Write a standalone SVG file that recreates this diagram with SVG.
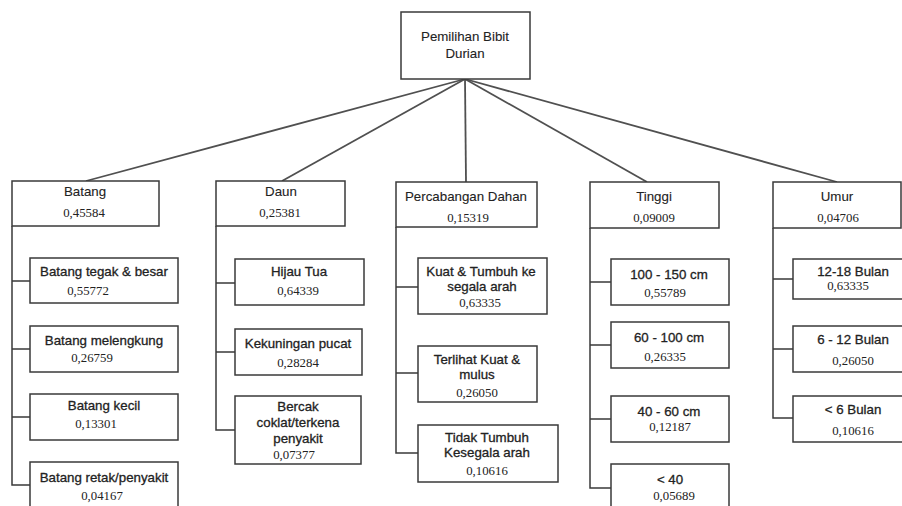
<svg xmlns="http://www.w3.org/2000/svg" width="902" height="506" viewBox="0 0 902 506">
<style>
.box{fill:#fff;stroke:#3a3a3a;stroke-width:1.5}
.lbl{font-family:"Liberation Sans",Arial,sans-serif;font-size:13.3px;fill:#222;stroke:#222;stroke-width:0.3;text-anchor:middle}
.hd{stroke-width:0.1}
.num{font-family:"Liberation Serif","Times New Roman",serif;font-size:12.8px;fill:#222;text-anchor:middle}
.ln{fill:none;stroke:#3a3a3a;stroke-width:1.5}
.rl{fill:none;stroke:#505050;stroke-width:1.8}
</style>
<rect width="902" height="506" fill="#fff"/>
<g id="connectors">
<line class="rl" x1="465" y1="79" x2="86" y2="181"/>
<line class="rl" x1="465" y1="79" x2="282" y2="181"/>
<line class="rl" x1="465" y1="79" x2="466" y2="182"/>
<line class="rl" x1="465" y1="79" x2="647" y2="182"/>
<line class="rl" x1="465" y1="79" x2="837" y2="182"/>
<path class="ln" d="M12 226 V485 H30 M12 281 H30 M12 349 H30 M12 417 H30"/>
<path class="ln" d="M216 226 V430 H235 M216 283 H235 M216 352 H235"/>
<path class="ln" d="M396 227 V453 H418 M396 287 H418 M396 373 H418"/>
<path class="ln" d="M590 228 V488 H611 M590 282 H611 M590 345 H611 M590 419 H611"/>
<path class="ln" d="M773 228 V418 H793 M773 279 H793 M773 349 H793"/>
</g>
<g id="root">
<rect class="box" x="401" y="12" width="129" height="67"/>
<text class="lbl hd" x="465" y="41">Pemilihan Bibit</text>
<text class="lbl hd" x="465" y="58">Durian</text>
</g>
<g id="batang">
<rect class="box" x="12" y="181" width="147" height="45"/>
<text class="lbl hd" x="85" y="196">Batang</text>
<text class="num" x="84" y="217">0,45584</text>
</g>
<g id="batang-tegak">
<rect class="box" x="30" y="258" width="148" height="45"/>
<text class="lbl" x="104" y="276">Batang tegak &amp; besar</text>
<text class="num" x="88" y="295">0,55772</text>
</g>
<g id="batang-melengkung">
<rect class="box" x="30" y="326" width="148" height="46"/>
<text class="lbl" x="104" y="345">Batang melengkung</text>
<text class="num" x="92" y="362">0,26759</text>
</g>
<g id="batang-kecil">
<rect class="box" x="30" y="394" width="148" height="46"/>
<text class="lbl" x="104" y="410">Batang kecil</text>
<text class="num" x="96" y="428">0,13301</text>
</g>
<g id="batang-retak">
<rect class="box" x="30" y="462" width="148" height="50"/>
<text class="lbl" x="104" y="482">Batang retak/penyakit</text>
<text class="num" x="102" y="500">0,04167</text>
</g>
<g id="daun">
<rect class="box" x="216" y="181" width="129" height="45"/>
<text class="lbl hd" x="281" y="196">Daun</text>
<text class="num" x="280" y="217">0,25381</text>
</g>
<g id="hijau-tua">
<rect class="box" x="235" y="259" width="129" height="46"/>
<text class="lbl" x="299" y="276">Hijau Tua</text>
<text class="num" x="298" y="295">0,64339</text>
</g>
<g id="kekuningan">
<rect class="box" x="235" y="329" width="127" height="46"/>
<text class="lbl" x="298" y="348">Kekuningan pucat</text>
<text class="num" x="298" y="367">0,28284</text>
</g>
<g id="bercak">
<rect class="box" x="235" y="396" width="126" height="68"/>
<text class="lbl" x="298" y="411">Bercak</text>
<text class="lbl" x="298" y="427">coklat/terkena</text>
<text class="lbl" x="298" y="443">penyakit</text>
<text class="num" x="294" y="459">0,07377</text>
</g>
<g id="percabangan">
<rect class="box" x="396" y="182" width="141" height="45"/>
<text class="lbl hd" x="466" y="201">Percabangan Dahan</text>
<text class="num" x="468" y="222">0,15319</text>
</g>
<g id="kuat">
<rect class="box" x="418" y="258" width="129" height="56"/>
<text class="lbl" x="481" y="276">Kuat &amp; Tumbuh ke</text>
<text class="lbl" x="482" y="291">segala arah</text>
<text class="num" x="480" y="307">0,63335</text>
</g>
<g id="terlihat">
<rect class="box" x="418" y="346" width="119" height="56"/>
<text class="lbl" x="477" y="364">Terlihat Kuat &amp;</text>
<text class="lbl" x="477" y="379">mulus</text>
<text class="num" x="477" y="397">0,26050</text>
</g>
<g id="tidak-tumbuh">
<rect class="box" x="418" y="425" width="140" height="57"/>
<text class="lbl" x="487" y="442">Tidak Tumbuh</text>
<text class="lbl" x="487" y="457">Kesegala arah</text>
<text class="num" x="487" y="475">0,10616</text>
</g>
<g id="tinggi">
<rect class="box" x="590" y="182" width="129" height="46"/>
<text class="lbl hd" x="654" y="201">Tinggi</text>
<text class="num" x="654" y="222">0,09009</text>
</g>
<g id="t100">
<rect class="box" x="611" y="259" width="118" height="46"/>
<text class="lbl" x="669" y="279">100 - 150 cm</text>
<text class="num" x="665" y="297">0,55789</text>
</g>
<g id="t60">
<rect class="box" x="611" y="322" width="118" height="46"/>
<text class="lbl" x="669" y="342">60 - 100 cm</text>
<text class="num" x="665" y="361">0,26335</text>
</g>
<g id="t40">
<rect class="box" x="611" y="396" width="118" height="46"/>
<text class="lbl" x="669" y="416">40 - 60 cm</text>
<text class="num" x="670" y="431">0,12187</text>
</g>
<g id="tlt40">
<rect class="box" x="611" y="464" width="118" height="50"/>
<text class="lbl" x="670" y="484">&lt; 40</text>
<text class="num" x="674" y="500">0,05689</text>
</g>
<g id="umur">
<rect class="box" x="773" y="182" width="128" height="46"/>
<text class="lbl hd" x="837" y="201">Umur</text>
<text class="num" x="838" y="222">0,04706</text>
</g>
<g id="u12">
<rect class="box" x="793" y="259" width="120" height="40"/>
<text class="lbl" x="853" y="276">12-18 Bulan</text>
<text class="num" x="848" y="290">0,63335</text>
</g>
<g id="u6">
<rect class="box" x="793" y="326" width="120" height="46"/>
<text class="lbl" x="853" y="344">6 - 12 Bulan</text>
<text class="num" x="853" y="365">0,26050</text>
</g>
<g id="ult6">
<rect class="box" x="793" y="396" width="120" height="46"/>
<text class="lbl" x="853" y="414">&lt; 6 Bulan</text>
<text class="num" x="853" y="435">0,10616</text>
</g>
</svg>
